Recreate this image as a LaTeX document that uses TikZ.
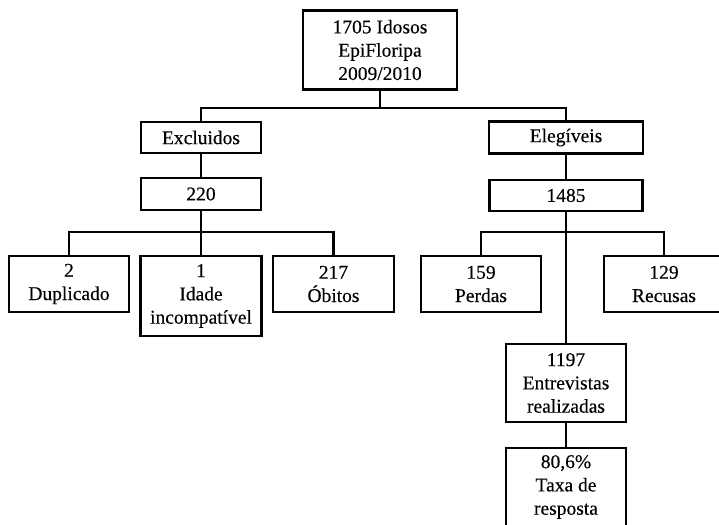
\documentclass[tikz,border=0pt]{standalone}
\usepackage{fontspec}
\setmainfont[FakeBold=0.3]{Liberation Serif}
\begin{document}
\begin{tikzpicture}[x=1pt,y=-1pt,
  box/.style={draw,line width=2.2pt,rectangle,inner sep=0pt,align=center,
    font=\fontsize{19.5}{23.3}\selectfont},
  conn/.style={line width=2.2pt}]
\useasboundingbox (0,0) rectangle (719,524);
\clip (0,0) rectangle (719,524);
% level 0
\node[box,minimum width=154pt,minimum height=79pt] (top) at (380,50) {1705 Idosos\\EpiFloripa\\2009/2010};
% level 1
\node[box,minimum width=120pt,minimum height=31pt] (excl) at (201,137.5) {Excluidos};
\node[box,minimum width=154pt,minimum height=32pt] (eleg) at (566,137.5) {Elegíveis};
% level 2
\node[box,minimum width=120pt,minimum height=32pt] (n220) at (201,194) {220};
\node[box,minimum width=153pt,minimum height=31pt] (n1485) at (566,195.5) {1485};
% level 3
\node[box,minimum width=120pt,minimum height=56pt] (dup) at (69,284) {2\\Duplicado};
\node[box,minimum width=121pt,minimum height=80pt] (idade) at (201,296) {1\\Idade\\incompatível};
\node[box,minimum width=121pt,minimum height=56pt] (obitos) at (333.5,284) {217\\Óbitos};
\node[box,minimum width=120pt,minimum height=56pt] (perdas) at (481,284) {159\\Perdas};
\node[box,minimum width=120pt,minimum height=56pt] (recusas) at (664,284) {129\\Recusas};
% level 4
\node[box,minimum width=120pt,minimum height=78pt] (n1197) at (566,383) {1197\\Entrevistas\\realizadas};
\node[box,minimum width=120pt,minimum height=78pt] (taxa) at (566,487) {80,6\%\\Taxa de\\resposta};
% connectors
\coordinate (b1) at (380,108);
\draw[conn] (top.south) -- (b1);
\draw[conn] (excl.north) |- (b1) -| (eleg.north);
\draw[conn] (excl.south) -- (n220.north);
\draw[conn] (eleg.south) -- (n1485.north);
\coordinate (b2) at (201,232);
\draw[conn] (n220.south) -- (idade.north);
\draw[conn] (dup.north) |- (b2) -| (obitos.north);
\coordinate (b3) at (566,232);
\draw[conn] (n1485.south) -- (n1197.north);
\draw[conn] (perdas.north) |- (b3) -| (recusas.north);
\draw[conn] (n1197.south) -- (taxa.north);
\end{tikzpicture}
\end{document}
